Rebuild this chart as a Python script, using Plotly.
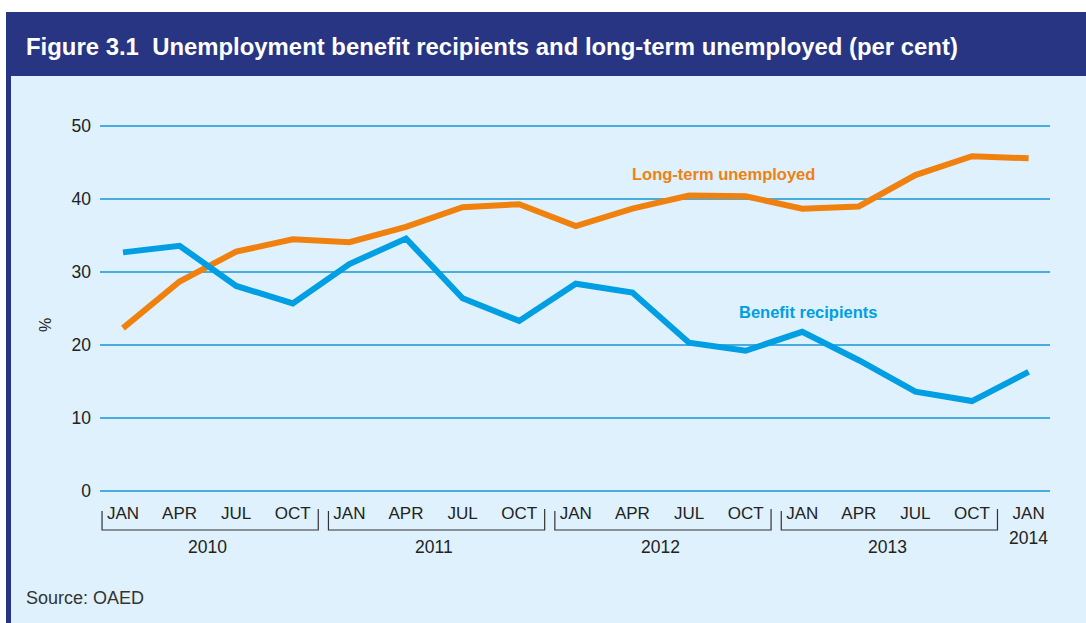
import plotly.graph_objects as go

# Quarterly observations, Jan 2010 - Jan 2014
months = ["JAN", "APR", "JUL", "OCT"] * 4 + ["JAN"]
years = ["2010", "2011", "2012", "2013"]
final_year = "2014"
benefit_recipients = [32.7, 33.6, 28.1, 25.7, 31.1, 34.6, 26.4, 23.3,
                      28.4, 27.2, 20.3, 19.2, 21.8, 17.9, 13.6, 12.3, 16.3]
long_term_unemployed = [22.3, 28.7, 32.8, 34.5, 34.1, 36.2, 38.9, 39.3,
                        36.3, 38.7, 40.5, 40.4, 38.7, 39.0, 43.3, 45.9, 45.6]
y_ticks = [0, 10, 20, 30, 40, 50]

NAVY = "#283583"
BG = "#DFF1FC"
BLUE = "#009EE2"
ORANGE = "#F0810F"
GRID = "#45ADE0"
TEXT = "#222222"
FONT = "Liberation Sans, Arial, sans-serif"

W, H = 1086, 623
L, R, T, B = 100, 36, 119, 125
PW, PH = W - L - R, H - T - B


def px(xp):
    return (xp - L) / PW


def py(yp):
    return (H - B - yp) / PH


x = list(range(len(months)))

fig = go.Figure()
fig.add_trace(go.Scatter(x=x, y=long_term_unemployed, mode="lines",
                         line=dict(color=ORANGE, width=6), hoverinfo="skip"))
fig.add_trace(go.Scatter(x=x, y=benefit_recipients, mode="lines",
                         line=dict(color=BLUE, width=6), hoverinfo="skip"))

shapes = [
    # white top and left margins, navy title band and left rule
    dict(type="rect", xref="paper", yref="paper", x0=px(0), x1=px(W), y0=py(12), y1=py(0),
         fillcolor="white", line_width=0, layer="below"),
    dict(type="rect", xref="paper", yref="paper", x0=px(0), x1=px(6), y0=py(H), y1=py(12),
         fillcolor="white", line_width=0, layer="below"),
    dict(type="rect", xref="paper", yref="paper", x0=px(6), x1=px(W), y0=py(76), y1=py(12),
         fillcolor=NAVY, line_width=0, layer="below"),
    dict(type="rect", xref="paper", yref="paper", x0=px(6), x1=px(11), y0=py(H), y1=py(76),
         fillcolor=NAVY, line_width=0, layer="below"),
]

# year brackets under the quarter labels
annotations = []
for k, yr in enumerate(years):
    x0 = 4 * k - 0.37
    x1 = 4 * k + 3.45
    shapes.append(dict(type="path", xref="x", yref="paper",
                       path=f"M {x0},{py(511)} L {x0},{py(530)} L {x1},{py(530)} L {x1},{py(509)}",
                       line=dict(color="#333333", width=1.2)))
    annotations.append(dict(x=4 * k + 1.5, y=py(547), xref="x", yref="paper", text=yr,
                            showarrow=False, font=dict(size=17.5, color=TEXT, family=FONT),
                            xanchor="center", yanchor="middle"))
annotations.append(dict(x=16, y=py(538), xref="x", yref="paper", text=final_year,
                        showarrow=False, font=dict(size=17.5, color=TEXT, family=FONT),
                        xanchor="center", yanchor="middle"))

annotations += [
    dict(x=px(24), y=py(46), xref="paper", yref="paper",
         text="<b>Figure 3.1  Unemployment benefit recipients and long-term unemployed (per cent)</b>",
         showarrow=False, xanchor="left", yanchor="middle",
         font=dict(size=23.9, color="white", family=FONT)),
    dict(x=px(24), y=py(598), xref="paper", yref="paper", text="Source: OAED",
         showarrow=False, xanchor="left", yanchor="middle",
         font=dict(size=18, color="#333333", family=FONT)),
    dict(x=px(45), y=py(325), xref="paper", yref="paper", text="%", textangle=-90,
         showarrow=False, xanchor="center", yanchor="middle",
         font=dict(size=16, color=TEXT, family=FONT)),
    dict(x=10.61, y=43.4, xref="x", yref="y", text="<b>Long-term unemployed</b>",
         showarrow=False, xanchor="center", yanchor="middle",
         font=dict(size=16.5, color=ORANGE, family=FONT)),
    dict(x=12.1, y=24.5, xref="x", yref="y", text="<b>Benefit recipients</b>",
         showarrow=False, xanchor="center", yanchor="middle",
         font=dict(size=16.5, color=BLUE, family=FONT)),
]

fig.update_layout(
    width=W, height=H,
    margin=dict(l=L, r=R, t=T, b=B, pad=0),
    paper_bgcolor=BG, plot_bgcolor=BG,
    showlegend=False,
    shapes=shapes, annotations=annotations,
    font=dict(family=FONT, color=TEXT),
)
fig.update_xaxes(range=[-0.406, 16.378], tickvals=x, ticktext=months,
                 showgrid=False, zeroline=False, showline=False, ticks="",
                 tickfont=dict(size=17, color=TEXT), ticklabelstandoff=3)
fig.update_yaxes(range=[-1, 51], tickvals=y_ticks, showgrid=True, gridcolor=GRID,
                 gridwidth=1.5, zeroline=False, showline=False, ticks="",
                 tickfont=dict(size=17.5, color=TEXT), ticklabelstandoff=8)

fig.write_html("out.html")
